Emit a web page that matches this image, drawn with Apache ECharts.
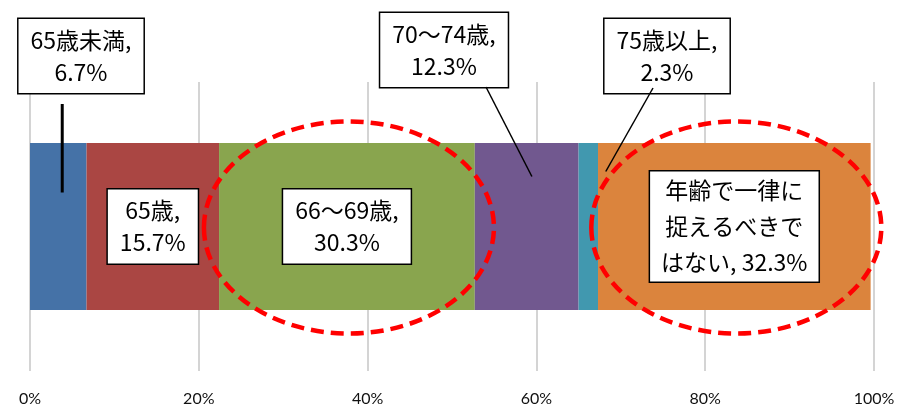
<!DOCTYPE html>
<html style="height: 100%">
<head>
    <meta charset="utf-8">
    <title>ECharts</title>
    <script src="https://cdn.jsdelivr.net/npm/echarts@6/dist/echarts.min.js"></script>
</head>
<body style="height: 100%; margin: 0; background: #fff">
<div id="main" style="width: 900px; height: 407px"></div>

<script type="text/javascript">
    // data
    var categories = ['回答'];
    var seriesNames = ['65歳未満', '65歳', '66～69歳', '70～74歳', '75歳以上', '年齢で一律に捉えるべきではない'];
    var values = [6.7, 15.7, 30.3, 12.3, 2.3, 32.3];
    var labelTexts = [
        '65歳未満,\n6.7%',
        '65歳,\n15.7%',
        '66～69歳,\n30.3%',
        '70～74歳,\n12.3%',
        '75歳以上,\n2.3%',
        '年齢で一律に\n捉えるべきで\nはない, 32.3%'
    ];
    var colors = ['#4572A7', '#AA4643', '#89A54E', '#71588F', '#4198AF', '#DB843D'];
    var xTicks = ['0%', '20%', '40%', '60%', '80%', '100%'];

    // label boxes that sit outside the bar (pixel centre of the box)
    var outsideLabel = {0: [81, 56], 3: [444, 50], 4: [667, 56]};
    // which segments get a red dashed ellipse
    var circled = [2, 5];

    var myChart = echarts.init(document.getElementById('main'));

    var font = '"Noto Sans CJK JP", "Noto Sans", sans-serif';

    var series = [];
    for (var i = 0; i < values.length; i++) {
        var multi = i === 5;
        series.push({
            name: seriesNames[i],
            type: 'bar',
            stack: 'total',
            barWidth: 167,
            data: [values[i]],
            itemStyle: {color: colors[i]},
            label: {
                show: true,
                position: 'inside',
                formatter: labelTexts[i],
                fontFamily: font,
                fontSize: 23,
                lineHeight: multi ? 36 : 32,
                color: '#000',
                backgroundColor: '#fff',
                borderColor: '#000',
                borderWidth: 1.5,
                padding: multi ? [2, 11, 0, 11] : [6, 12, 4, 12],
                align: 'center'
            },
            labelLayout: outsideLabel[i] ? (function (p) {
                return function () {
                    return {x: p[0], y: p[1], align: 'center', verticalAlign: 'middle'};
                };
            })(outsideLabel[i]) : null
        });
    }

    var option = {
        animation: false,
        grid: {left: 30, right: 26, top: 82, bottom: 35},
        xAxis: {
            type: 'value',
            min: 0,
            max: 100,
            interval: 20,
            axisLine: {show: false},
            axisTick: {show: false},
            axisLabel: {
                margin: 20,
                fontSize: 16,
                color: '#111',
                fontFamily: 'Lato, sans-serif',
                formatter: function (v) { return xTicks[v / 20]; }
            },
            splitLine: {lineStyle: {color: '#c6c6c6', width: 1.5}}
        },
        yAxis: {
            type: 'category',
            data: categories,
            show: false
        },
        series: series
    };
    myChart.setOption(option, true);

    // leader lines and ellipses, positioned from the data
    function segPx(idx, frac) {
        var start = 0;
        for (var k = 0; k < idx; k++) start += values[k];
        return myChart.convertToPixel({gridIndex: 0}, [start + values[idx] * frac, categories[0]]);
    }

    var graphics = [];
    var cy = segPx(0, 0)[1];

    // 65歳未満 leader
    var p0 = segPx(0, 0.57);
    graphics.push({type: 'line', z: 50, shape: {x1: p0[0], y1: 104, x2: p0[0], y2: cy - 34},
        style: {stroke: '#000', lineWidth: 3}});
    // 70～74歳 leader
    var p3 = segPx(3, 0.55);
    graphics.push({type: 'line', z: 50, shape: {x1: 486, y1: 87, x2: p3[0], y2: cy - 50},
        style: {stroke: '#000', lineWidth: 1.5}});
    // 75歳以上 leader
    var p4 = segPx(4, 1.4);
    graphics.push({type: 'line', z: 50, shape: {x1: 653, y1: 88, x2: p4[0], y2: cy - 55},
        style: {stroke: '#000', lineWidth: 1.5}});

    circled.forEach(function (idx) {
        var c = segPx(idx, 0.5);
        graphics.push({
            type: 'ellipse',
            z: 60,
            shape: {cx: c[0] + 2, cy: c[1] + 1, rx: 145, ry: 106},
            style: {fill: 'none', stroke: '#ff0000', lineWidth: 4.5, lineDash: [13, 7]}
        });
    });

    myChart.setOption({graphic: graphics});
</script>
</body>
</html>
